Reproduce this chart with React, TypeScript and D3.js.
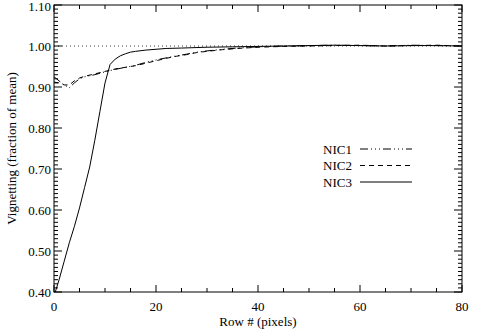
import React from "react";
import * as d3 from "d3";

const nic1Rows = [0,1,2,3,4,5,6,8,10,12,14,16,18,20,22,24,26,28,30,33,36,40,45,50,55,60,65,70,75,80];
const nic1Vals = [0.925,0.915,0.905,0.898,0.91,0.92,0.925,0.93,0.937,0.943,0.948,0.953,0.96,0.966,0.971,0.976,0.98,0.985,0.988,0.992,0.995,0.998,1.0,1.001,1.002,1.001,1.0,1.002,1.001,1.0];
const nic2Rows = [0,1,2,3,4,5,6,8,10,12,14,16,18,20,22,24,26,28,30,33,36,40,45,50,55,60,65,70,75,80];
const nic2Vals = [0.912,0.91,0.905,0.905,0.915,0.922,0.926,0.932,0.938,0.944,0.948,0.952,0.958,0.964,0.97,0.975,0.979,0.984,0.987,0.991,0.994,0.997,0.999,1.0,1.001,1.002,1.0,1.001,1.002,1.0];
const nic3Rows = [0,1,2,3,4,5,6,7,8,9,10,11,12,13,14,15,16,18,20,22,25,30,35,40,45,50,55,60,65,70,75,80];
const nic3Vals = [0.39,0.43,0.475,0.52,0.56,0.605,0.655,0.705,0.77,0.84,0.91,0.955,0.968,0.976,0.981,0.985,0.987,0.99,0.992,0.994,0.995,0.997,0.998,0.999,1.0,1.001,1.002,1.001,1.0,1.001,1.001,1.0];

const xTicks = [0, 20, 40, 60, 80];
const yTicks = [0.4, 0.5, 0.6, 0.7, 0.8, 0.9, 1.0, 1.1];
const seriesNames = ["NIC1", "NIC2", "NIC3"];

const W = 480, H = 335;
const L = 54, R = 462, T = 5, B = 292;
const txt: React.CSSProperties = { fontFamily: "'Liberation Serif', 'DejaVu Serif', serif", fontSize: "13px" };

export default function App() {
  const x = d3.scaleLinear().domain([0, 80]).range([L, R]);
  const y = d3.scaleLinear().domain([0.4, 1.1]).range([B, T]);
  const line = d3.line<[number, number]>().x(d => x(d[0])).y(d => y(d[1]));
  const mk = (rows: number[], vals: number[]) => line(rows.map((r, i) => [r, vals[i]] as [number, number])) || "";
  const series = [
    { name: seriesNames[0], d: mk(nic1Rows, nic1Vals), dash: "8,3,1,3,1,3,1,3" },
    { name: seriesNames[1], d: mk(nic2Rows, nic2Vals), dash: "5,4" },
    { name: seriesNames[2], d: mk(nic3Rows, nic3Vals), dash: "" },
  ];
  const xMinor = d3.range(0, 81, 5);
  const yMinor = d3.range(40, 111, 1).map(v => v / 100);

  return (
    <svg width={W} height={H} style={{ position: "absolute", left: 0, top: 0, background: "#fff" }}>
      <defs>
        <clipPath id="plot"><rect x={L} y={T} width={R - L} height={B - T} /></clipPath>
      </defs>
      <rect width={W} height={H} fill="#fff" />
      <line x1={L} x2={R} y1={y(1.0)} y2={y(1.0)} stroke="#000" strokeWidth={0.8} strokeDasharray="1,3" />
      <g clipPath="url(#plot)" fill="none" stroke="#000" strokeWidth={1}>
        {series.map(s => (
          <path key={s.name} d={s.d} strokeDasharray={s.dash || undefined} />
        ))}
      </g>
      <rect x={L} y={T} width={R - L} height={B - T} fill="none" stroke="#000" strokeWidth={1} />
      {xMinor.map(v => {
        const major = v % 20 === 0;
        const len = major ? 7 : 4;
        return (
          <g key={"x" + v} stroke="#000" strokeWidth={1}>
            <line x1={x(v)} x2={x(v)} y1={B} y2={B - len} />
            <line x1={x(v)} x2={x(v)} y1={T} y2={T + len} />
          </g>
        );
      })}
      {yMinor.map(v => {
        const major = Math.round(v * 100) % 10 === 0;
        const len = major ? 8 : 4;
        return (
          <g key={"y" + v} stroke="#000" strokeWidth={1}>
            <line x1={L} x2={L + len} y1={y(v)} y2={y(v)} />
            <line x1={R} x2={R - len} y1={y(v)} y2={y(v)} />
          </g>
        );
      })}
      {xTicks.map(v => (
        <text key={"xl" + v} x={x(v)} y={311} textAnchor="middle" style={txt}>{v}</text>
      ))}
      {yTicks.map(v => (
        <text key={"yl" + v} x={L - 3} y={Math.max(y(v) + 4.5, 11)} textAnchor="end" style={txt}>{v.toFixed(2)}</text>
      ))}
      <text x={(L + R) / 2} y={326} textAnchor="middle" style={txt}>Row # (pixels)</text>
      <text transform={`translate(16,${(T + B) / 2}) rotate(-90)`} textAnchor="middle" style={txt}>Vignetting (fraction of mean)</text>
      {series.map((s, i) => {
        const yy = 149 + i * 16.5;
        return (
          <g key={"lg" + s.name}>
            <text x={323} y={yy + 4.5} style={txt}>{s.name}</text>
            <line x1={360} x2={412} y1={yy} y2={yy} stroke="#000" strokeWidth={1} strokeDasharray={s.dash || undefined} />
          </g>
        );
      })}
    </svg>
  );
}
